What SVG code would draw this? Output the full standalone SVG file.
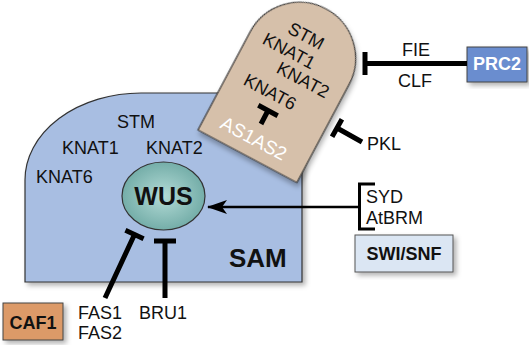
<svg xmlns="http://www.w3.org/2000/svg" width="529" height="345" viewBox="0 0 529 345">
<defs>
<filter id="sh" x="-10%" y="-10%" width="130%" height="130%">
<feDropShadow dx="3" dy="3" stdDeviation="2.5" flood-color="#000" flood-opacity="0.3"/>
</filter>
<radialGradient id="wg" cx="50%" cy="50%" r="55%">
<stop offset="0" stop-color="#b3dbd6"/>
<stop offset="1" stop-color="#6ea9a4"/>
</radialGradient>
<marker id="ah" viewBox="0 0 20 14" refX="19" refY="7" markerWidth="20" markerHeight="14" markerUnits="userSpaceOnUse" orient="auto">
<path d="M0,0 L20,7 L0,14 L5,7 Z" fill="#000"/>
</marker>
</defs>
<style>
text{font-family:"Liberation Sans",Arial,sans-serif;fill:#111}
.l{font-size:18px}
.b{font-weight:bold}
.inh{stroke:#000;stroke-width:5;fill:none;stroke-linecap:butt}
.edge{stroke:#333;stroke-width:1.2}
</style>
<rect width="529" height="345" fill="#fff"/>

<g id="sam">
<path d="M25,282 L25,180 A116,87 0 0 1 141,93 L296,93 Q302,93 302,99 L302,282 Z" fill="#a8bee2" class="edge" filter="url(#sh)"/>
<text class="l" x="117" y="128">STM</text>
<text class="l" x="62" y="154">KNAT1</text>
<text class="l" x="146" y="154">KNAT2</text>
<text class="l" x="36" y="183">KNAT6</text>
<text class="b" x="229" y="267" font-size="26">SAM</text>
</g>

<g id="wus">
<ellipse cx="163.5" cy="196" rx="41.5" ry="34" fill="url(#wg)" class="edge"/>
<text class="b" x="163.5" y="205" font-size="25" text-anchor="middle">WUS</text>
</g>

<g id="as1as2">
<path transform="translate(198,130) rotate(28)" d="M0,0 L112,0 L112,-111 A56,56 0 0 0 0,-111 Z" fill="#d6c0aa" class="edge" filter="url(#sh)"/>
<text class="l" transform="translate(306,36) rotate(28)" y="6" text-anchor="middle">STM</text>
<text class="l" transform="translate(289,51) rotate(28)" y="6" text-anchor="middle">KNAT1</text>
<text class="l" transform="translate(303,80) rotate(28)" y="6" text-anchor="middle">KNAT2</text>
<text class="l" transform="translate(270,92) rotate(28)" y="6" text-anchor="middle">KNAT6</text>
<text transform="translate(254,138) rotate(28)" y="7" text-anchor="middle" font-size="19" style="fill:#fff">AS1AS2</text>
</g>

<g id="prc2">
<rect x="467" y="47" width="60" height="35" fill="#6a8dcf" stroke="#444" stroke-width="1" filter="url(#sh)"/>
<text class="b" x="497" y="70" font-size="18" text-anchor="middle" style="fill:#fff">PRC2</text>
</g>

<g id="swisnf">
<rect x="355" y="235" width="98" height="37" fill="#dbe6f3" stroke="#555" stroke-width="1" filter="url(#sh)"/>
<text class="b" x="404" y="260" font-size="18" text-anchor="middle">SWI/SNF</text>
</g>

<g id="caf1">
<rect x="3" y="303" width="60" height="37" fill="#dc9a68" stroke="#444" stroke-width="1" filter="url(#sh)"/>
<text class="b" x="33" y="329" font-size="18" text-anchor="middle">CAF1</text>
</g>

<g id="labels">
<text class="l" x="402" y="56">FIE</text>
<text class="l" x="398" y="87">CLF</text>
<text class="l" x="367" y="150">PKL</text>
<text class="l" x="366" y="203">SYD</text>
<text class="l" x="366" y="224">AtBRM</text>
<text class="l" x="78" y="319">FAS1</text>
<text class="l" x="78" y="339">FAS2</text>
<text class="l" x="139" y="319">BRU1</text>
</g>

<g id="connectors">
<path class="inh" d="M467,63.5 L365,63.5 M365,52 L365,75"/>
<path class="inh" d="M362,142 L337,128 M332.1,136.7 L341.9,119.3"/>
<path d="M375,184 L359.5,184 L359.5,229 L375,229" stroke="#000" stroke-width="3" fill="none"/>
<path d="M359.5,207 L208,207" stroke="#000" stroke-width="2.5" fill="none" marker-end="url(#ah)"/>
<path class="inh" d="M105,298 L134.5,234.5 M125.4,230.3 L143.6,238.7"/>
<path class="inh" d="M165,298 L165,241 M154,241 L176,241"/>
<path class="inh" d="M261,124 L268,110.5 M258.3,105.3 L277.7,115.7"/>
</g>
</svg>
